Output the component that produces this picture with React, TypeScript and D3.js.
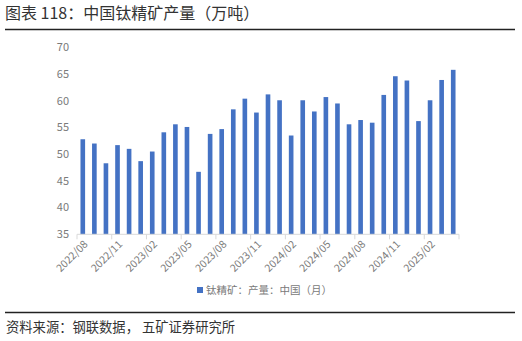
import React from "react";
import * as d3 from "d3";

const months = [
  "2022/08","2022/09","2022/10","2022/11","2022/12","2023/01","2023/02","2023/03","2023/04","2023/05","2023/06","2023/07",
  "2023/08","2023/09","2023/10","2023/11","2023/12","2024/01","2024/02","2024/03","2024/04","2024/05","2024/06","2024/07",
  "2024/08","2024/09","2024/10","2024/11","2024/12","2025/01","2025/02","2025/03","2025/04",
];
const output = [
  52.8, 52.0, 48.3, 51.7, 51.0, 48.7, 50.5, 54.1, 55.6, 55.1, 46.7, 53.8,
  54.7, 58.4, 60.4, 57.8, 61.2, 60.1, 53.5, 60.1, 58.0, 60.7, 59.5, 55.6,
  56.4, 55.9, 61.1, 64.6, 63.8, 56.2, 60.1, 63.9, 65.8,
];
const yTicks = [35, 40, 45, 50, 55, 60, 65, 70];
const title = "图表 118：中国钛精矿产量（万吨）";
const seriesName = "钛精矿：产量：中国（月）";
const source = "资料来源：钢联数据， 五矿证券研究所";

const W = 522, H = 341;
const left = 77, right = 459, top = 47.4, bottom = 234.3;
const font = "'Noto Sans CJK SC', 'Noto Sans', sans-serif";
const grey = "#7a7a7a";
const barColor = "#4472C4";

export default function App() {
  const x = d3.scaleBand<string>().domain(months).range([left, right]).paddingInner(0.6).paddingOuter(0.3);
  const y = d3.scaleLinear().domain([35, 70]).range([bottom, top]);
  const step = x.step();
  const tickIdx = d3.range(0, months.length + 1, 3);
  return (
    <svg width={W} height={H} style={{ position: "absolute", left: 0, top: 0 }} fontFamily={font}>
      <rect x={0} y={0} width={W} height={H} fill="#fff" />
      <text x={5} y={19} fontSize={16} fill="#333">{title}</text>
      <line x1={5} x2={515} y1={29.5} y2={29.5} stroke="#222" strokeWidth={1.3} />
      {yTicks.map((t) => (
        <text key={t} x={69} y={y(t)} dy="0.35em" textAnchor="end" fontSize={11} fill={grey}>{t}</text>
      ))}
      {output.map((v, i) => (
        <rect key={i} x={x(months[i])!} y={y(v)} width={x.bandwidth()} height={bottom - y(v)} fill={barColor} />
      ))}
      <line x1={left} x2={right} y1={bottom} y2={bottom} stroke="#d9d9d9" strokeWidth={1} />
      {tickIdx.map((k) => (
        <line key={k} x1={left + k * step} x2={left + k * step} y1={bottom} y2={bottom + 5} stroke="#d9d9d9" strokeWidth={1} />
      ))}
      {months.map((m, i) => i % 3 === 0 ? (
        <text key={m} transform={`translate(${x(m)! + x.bandwidth() / 2 + 3},${bottom + 8}) rotate(-45)`} textAnchor="end" dy="0.35em" fontSize={10.5} fill={grey}>{m}</text>
      ) : null)}
      <rect x={197} y={287} width={6} height={6} fill={barColor} />
      <text x={206} y={290} dy="0.35em" fontSize={10.5} fill={grey}>{seriesName}</text>
      <line x1={5} x2={515} y1={312.5} y2={312.5} stroke="#222" strokeWidth={1.3} />
      <text x={6} y={332} fontSize={13.3} fill="#333">{source}</text>
    </svg>
  );
}
